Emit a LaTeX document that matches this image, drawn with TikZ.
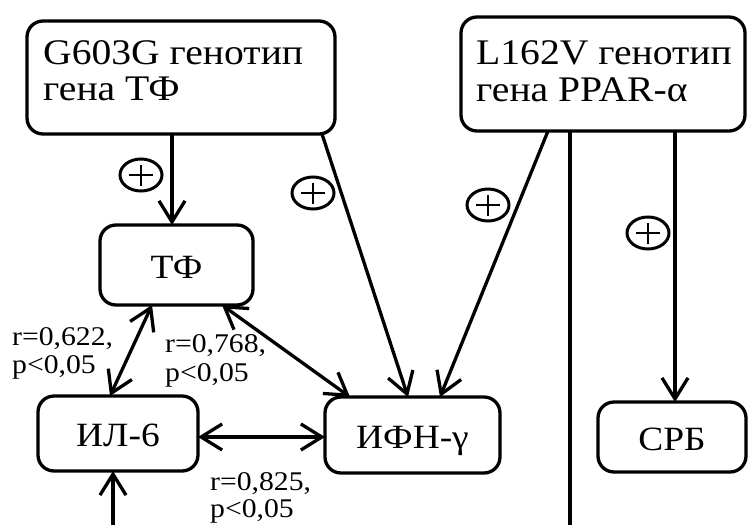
\documentclass[tikz,border=0pt]{standalone}
\usepackage{fontspec}
\setmainfont[FakeStretch=1.1]{Liberation Serif}
\usetikzlibrary{arrows.meta,shapes.geometric,calc}
\begin{document}
\begin{tikzpicture}[x=1pt,y=-1pt,
  box/.style={draw,line width=3.3pt,rounded corners=16pt,inner sep=0pt,outer sep=0pt,text height=30pt,text depth=4pt,font=\fontsize{34}{38}\selectfont},
  ttl/.style={anchor=base west,inner sep=0pt,font=\fontsize{36}{40}\selectfont},
  lab/.style={anchor=base west,inner sep=0pt,font=\fontsize{27}{30}\selectfont},
  conn/.style={line width=3.3pt},
  tipend/.style={-{Straight Barb[length=21pt,width=26pt]}},
  tipboth/.style={{Straight Barb[length=21pt,width=26pt]}-{Straight Barb[length=21pt,width=26pt]}},
  pm/.style={ellipse,draw,line width=3pt,minimum width=42pt,minimum height=32pt,inner sep=0pt,
    path picture={
      \draw[line width=2.6pt] ([xshift=-12pt]path picture bounding box.center) -- ([xshift=12pt]path picture bounding box.center);
      \draw[line width=2.6pt] ([yshift=-10.5pt]path picture bounding box.center) -- ([yshift=10.5pt]path picture bounding box.center);}}
]
\useasboundingbox (0,0) rectangle (749,525);
\fill[white] (0,0) rectangle (749,525);

% boxes
\node[box,minimum width=308pt,minimum height=113pt] (g1) at (181,77.5) {};
\node[box,minimum width=284pt,minimum height=114pt] (g2) at (603,74) {};
\node[box,minimum width=153pt,minimum height=80pt] (tf) at (176.5,265) {ТФ};
\node[box,minimum width=160pt,minimum height=75pt] (il) at (118,433.5) {ИЛ-6};
\node[box,minimum width=175pt,minimum height=76pt] (ifn) at (412.5,435) {ИФН-γ};
\node[box,minimum width=148pt,minimum height=70pt] (crp) at (672,437) {СРБ};

% box titles
\node[ttl] (g1a) at (43,64) {G603G генотип};
\node[ttl] (g1b) at (43,100) {гена ТФ};
\node[ttl] (g2a) at (476,64) {L162V генотип};
\node[ttl] (g2b) at (476,101) {гена PPAR-α};

% free ends
\coordinate (vb) at (570,525);
\coordinate (ib) at (113,525);

% connectors
\draw[conn,tipend] ($(g1.south)+(-9,0)$) -- ($(tf.north)+(-4.5,0)$);
\draw[conn,tipend] ($(g1.south)+(141,0)$) -- ($(ifn.north)+(-4.5,0)$);
\draw[conn,tipend] ($(g2.south)+(-55,0)$) -- ($(ifn.north)+(27.5,0)$);
\draw[conn] ($(g2.south)+(-33,0)$) -- (vb);
\draw[conn,tipend] ($(g2.south)+(72,0)$) -- ($(crp.north)+(3,0)$);
\draw[conn,tipboth] ($(tf.south)+(-24.5,0)$) -- ($(il.north)+(-8,0)$);
\draw[conn,tipboth] ($(tf.south)+(45.5,0)$) -- ($(ifn.north)+(-62.5,0)$);
\draw[conn,tipboth] ($(il.east)+(0,3.5)$) -- ($(ifn.west)+(0,2)$);
\draw[conn,tipend] (ib) -- ($(il.south)+(-5,0)$);

% plus marks
\node[pm] (p1) at (141,175) {};
\node[pm] (p2) at (313,193) {};
\node[pm] (p3) at (488,205) {};
\node[pm] (p4) at (648,233) {};

% correlation labels
\node[lab] (r1a) at (12,345) {r=0,622,};
\node[lab] (r1b) at (12,373) {p<0,05};
\node[lab] (r2a) at (165,352) {r=0,768,};
\node[lab] (r2b) at (165,381) {p<0,05};
\node[lab] (r3a) at (210,490) {r=0,825,};
\node[lab] (r3b) at (210,517) {p<0,05};
\end{tikzpicture}
\end{document}
